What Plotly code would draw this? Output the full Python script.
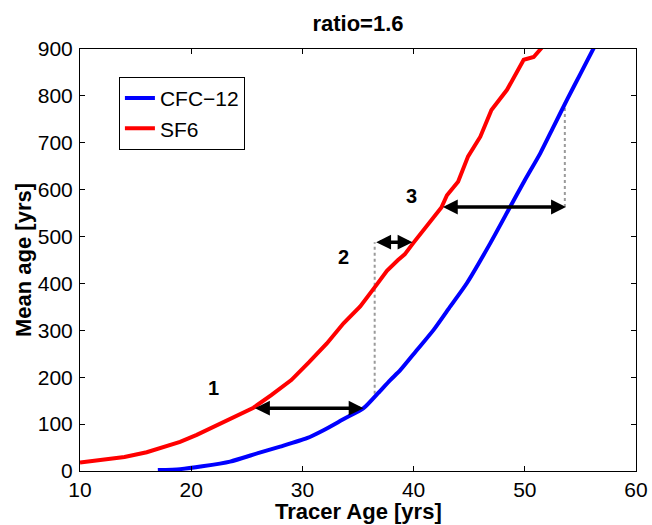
import plotly.graph_objects as go

# ---- data ----
sf6_x = [10, 12, 14, 16, 17.2, 19, 20.5, 22, 23.2, 24.5, 25.6, 27.2, 29.0, 30.6, 32.2, 33.7,
         35.2, 36.7, 37.6, 38.6, 39.2, 40.0, 41.2, 42.5, 43.0, 44.0, 44.9, 46.0, 47.0, 48.4,
         49.9, 50.8, 51.5, 51.9]
sf6_y = [18, 24, 30, 40, 48, 62, 77, 94, 107, 121, 135, 162, 194, 232, 272, 315,
         351, 398, 427, 450, 462, 487, 522, 562, 588, 617, 671, 713, 770, 813,
         877, 883, 902, 915]

cfc_x = [17.0, 19.0, 21.0, 23.5, 26.0, 28.0, 30.4, 31.9, 33.8, 35.5, 36.8, 37.9, 38.8, 40.3,
         41.8, 43.3, 44.8, 46.9, 48.7, 50.0, 51.4, 52.6, 53.8, 55.0, 56.2, 56.5]
cfc_y = [2, 4, 10, 20, 38, 52, 70, 87, 112, 134, 166, 194, 215, 258,
         301, 351, 401, 486, 564, 620, 678, 735, 792, 847, 902, 915]

arrow_y = [134, 488, 563]
arrow_x0 = [25.6, 36.5, 42.5]
arrow_x1 = [35.5, 39.9, 53.7]

guide_x = [36.5, 53.6]
guide_y0 = [165, 563]
guide_y1 = [488, 788]

label_text = ["1", "2", "3"]
label_x = [22.0, 33.7, 39.8]
label_y = [177, 457, 587]

x_ticks = [10, 20, 30, 40, 50, 60]
y_ticks = [0, 100, 200, 300, 400, 500, 600, 700, 800, 900]

x_title = "Tracer Age [yrs]"
y_title = "Mean age [yrs]"

FONT = "Liberation Sans, Arial, Helvetica, sans-serif"

fig = go.Figure()

for gx, g0, g1 in zip(guide_x, guide_y0, guide_y1):
    fig.add_trace(go.Scatter(x=[gx, gx], y=[g0, g1], mode="lines",
                             line=dict(color="#9a9a9a", width=2, dash="dot"),
                             showlegend=False, hoverinfo="skip"))

fig.add_trace(go.Scatter(x=cfc_x, y=cfc_y, mode="lines", name="CFC\u221212",
                         line=dict(color="#0000ff", width=4, shape="spline", smoothing=0.6)))
fig.add_trace(go.Scatter(x=sf6_x, y=sf6_y, mode="lines", name="SF6",
                         line=dict(color="#ff0000", width=4)))

for y, x0, x1 in zip(arrow_y, arrow_x0, arrow_x1):
    fig.add_annotation(x=x1, y=y, ax=x0, ay=y, xref="x", yref="y", axref="x", ayref="y",
                       text="", showarrow=True, arrowhead=2, startarrowhead=2,
                       arrowside="end+start", arrowwidth=3.5, arrowsize=0.85,
                       startarrowsize=0.85,
                       arrowcolor="black", standoff=0, startstandoff=0)

for t, x, y in zip(label_text, label_x, label_y):
    fig.add_annotation(x=x, y=y, xref="x", yref="y", text=t, showarrow=False,
                       font=dict(family=FONT, size=20, color="black", weight="bold"))

# axis titles placed precisely in the margins
fig.add_annotation(x=0.5, y=-0.0960, xref="paper", yref="paper", text=x_title,
                   showarrow=False, xanchor="center", yanchor="middle",
                   font=dict(family=FONT, size=22, color="black", weight="bold"))
fig.add_annotation(x=-0.1025, y=0.5, xref="paper", yref="paper", text=y_title,
                   showarrow=False, xanchor="center", yanchor="middle", textangle=-90,
                   font=dict(family=FONT, size=22, color="black", weight="bold"))

fig.update_layout(
    width=652, height=525,
    margin=dict(l=80, r=16, t=49, b=54, autoexpand=False),
    paper_bgcolor="white", plot_bgcolor="white",
    font=dict(family=FONT, size=21, color="black"),
    title=dict(text="ratio=1.6", x=0.549, xanchor="center", y=0.956, yanchor="middle",
               yref="container",
               font=dict(family=FONT, size=22, color="black", weight="bold")),
    legend=dict(x=0.070, y=0.934, xanchor="left", yanchor="top",
                bordercolor="black", borderwidth=1, bgcolor="white",
                font=dict(family=FONT, size=21, color="black"),
                itemwidth=30, tracegroupgap=0),
    showlegend=True,
)

fig.update_xaxes(range=[10, 60], tickvals=x_ticks, ticks="inside", ticklen=5,
                 tickcolor="black", showline=True, linecolor="black", linewidth=1,
                 mirror="ticks", showgrid=False, zeroline=False, automargin=False,
                 tickfont=dict(family=FONT, size=21, color="black"),
                 ticklabelstandoff=0)
fig.update_yaxes(range=[0, 900], tickvals=y_ticks, ticks="inside", ticklen=5,
                 tickcolor="black", showline=True, linecolor="black", linewidth=1,
                 mirror="ticks", showgrid=False, zeroline=False, automargin=False,
                 tickfont=dict(family=FONT, size=21, color="black"),
                 ticklabelstandoff=2)

fig.write_html("out.html")
